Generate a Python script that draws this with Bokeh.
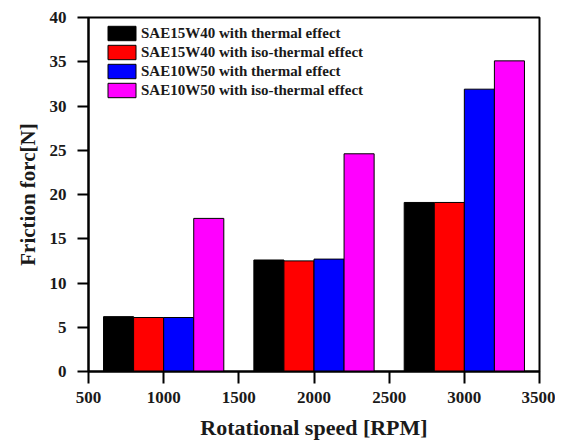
from bokeh.plotting import figure
from bokeh.models import Range1d, FixedTicker, Legend, LegendItem
from bokeh.embed import file_html
from bokeh.resources import INLINE

rpm = [1000, 2000, 3000]
series_names = [
    "SAE15W40 with thermal effect",
    "SAE15W40 with iso-thermal effect",
    "SAE10W50 with thermal effect",
    "SAE10W50 with iso-thermal effect",
]
sae15w40_thermal = [6.2, 12.6, 19.1]
sae15w40_iso = [6.1, 12.5, 19.1]
sae10w50_thermal = [6.1, 12.7, 31.9]
sae10w50_iso = [17.3, 24.6, 35.1]
colors = ["#000000", "#ff0000", "#0000ff", "#ff00ff"]
x_ticks = [500, 1000, 1500, 2000, 2500, 3000, 3500]
y_ticks = [0, 5, 10, 15, 20, 25, 30, 35, 40]
x_title = "Rotational speed [RPM]"
y_title = "Friction forc[N]"

FONT = "Liberation Serif"
TEXT_COLOR = "#1a1a1a"

p = figure(width=555, height=442, output_backend="svg", toolbar_location=None,
           x_range=Range1d(500, 3500), y_range=Range1d(0, 40),
           min_border_left=88, min_border_right=16, min_border_top=17, min_border_bottom=71)
p.grid.visible = False
p.outline_line_color = "black"
p.outline_line_width = 2

bar_w = 200
offsets = [-300, -100, 100, 300]
items = []
for vals, off, col, name in zip([sae15w40_thermal, sae15w40_iso, sae10w50_thermal, sae10w50_iso],
                                offsets, colors, series_names):
    r = p.vbar(x=[v + off for v in rpm], top=vals, width=bar_w, bottom=0,
               fill_color=col, line_color="black", line_width=1)
    items.append(LegendItem(label=name, renderers=[r]))

legend = Legend(items=items, location=(16, 272), background_fill_alpha=0,
                border_line_alpha=0, label_text_font=FONT, label_text_font_style="bold",
                label_text_font_size="15px", label_text_color=TEXT_COLOR,
                glyph_width=35, glyph_height=18,
                spacing=1, padding=0, margin=0, label_standoff=2, label_height=18)
p.add_layout(legend)

for ax in (p.xaxis[0], p.yaxis[0]):
    ax.axis_line_width = 2
    ax.axis_line_color = "black"
    ax.major_tick_line_width = 2
    ax.major_tick_line_color = "black"
    ax.major_tick_in = 0
    ax.minor_tick_out = 0
    ax.minor_tick_in = 0
    ax.major_label_text_font = FONT
    ax.major_label_text_font_style = "bold"
    ax.major_label_text_font_size = "17px"
    ax.major_label_text_color = TEXT_COLOR
    ax.axis_label_text_font = FONT
    ax.axis_label_text_font_style = "bold"
    ax.axis_label_text_color = TEXT_COLOR

p.xaxis.major_tick_out = 12
p.xaxis.major_label_standoff = 8
p.yaxis.major_tick_out = 11
p.yaxis.major_label_standoff = 11

p.xaxis.ticker = FixedTicker(ticks=x_ticks)
p.yaxis.ticker = FixedTicker(ticks=y_ticks)
p.xaxis.axis_label = x_title
p.xaxis.axis_label_text_font_size = "22px"
p.xaxis.axis_label_standoff = 9
p.yaxis.axis_label = y_title
p.yaxis.axis_label_text_font_size = "21px"
p.yaxis.axis_label_standoff = 7

open("out.html", "w").write(file_html(p, INLINE))
